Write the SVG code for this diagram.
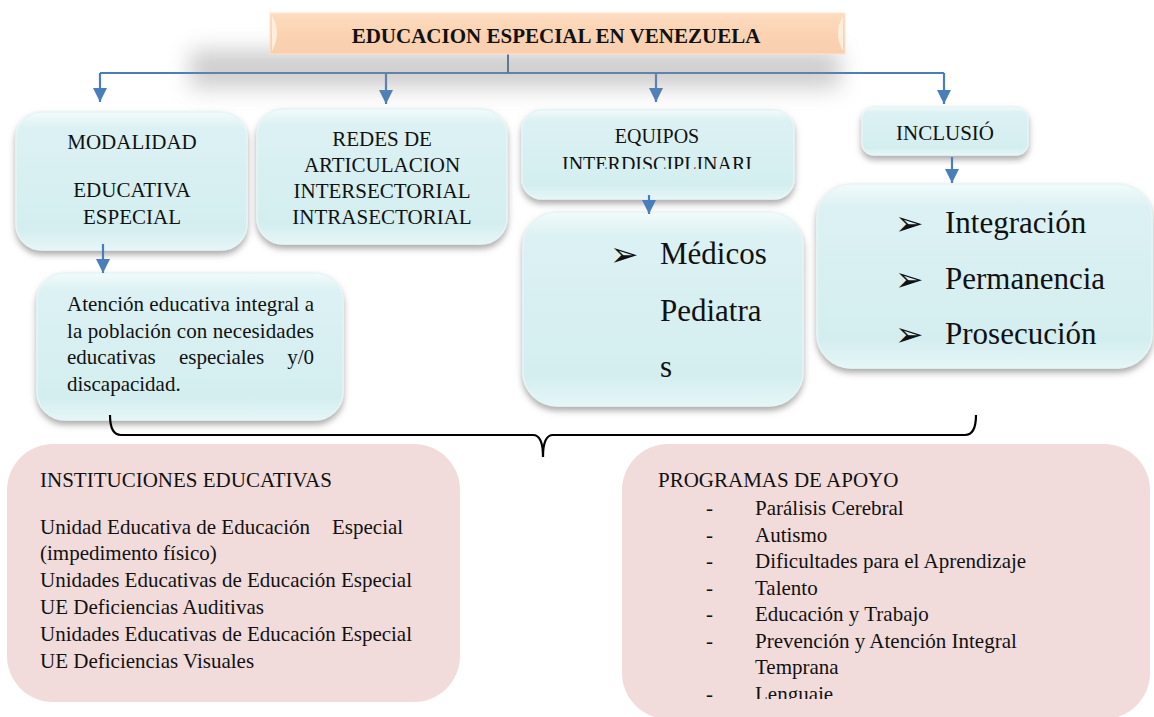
<svg xmlns="http://www.w3.org/2000/svg" width="1154" height="717" viewBox="0 0 1154 717" font-family="'Liberation Serif', 'DejaVu Serif', serif">
<defs>
<style>
.t{font-family:'Liberation Serif','DejaVu Serif',serif;fill:#111;}
.n{font-size:21px;}
.big{font-size:31px;}
.bul{font-family:'DejaVu Sans',sans-serif;font-size:34px;fill:#111;}
.cyan{fill:url(#cg);stroke:#e6f5f6;stroke-width:1.5;filter:url(#sh);}
.pink{fill:#f2dcdb;}
.conn{stroke:#4a7ebb;stroke-width:2.2;fill:none;}
</style>
<linearGradient id="cg" x1="0" y1="0" x2="0" y2="1">
<stop offset="0" stop-color="#f2fbfb"/>
<stop offset="0.12" stop-color="#dcf1f3"/>
<stop offset="0.85" stop-color="#d4eef0"/>
<stop offset="1" stop-color="#e6f6f7"/>
</linearGradient>
<linearGradient id="pg" x1="0" y1="0" x2="0" y2="1">
<stop offset="0" stop-color="#fddcc0"/>
<stop offset="0.5" stop-color="#fbd3b2"/>
<stop offset="1" stop-color="#f9cfae"/>
</linearGradient>
<filter id="sh" x="-10%" y="-10%" width="120%" height="130%">
<feDropShadow dx="0" dy="4" stdDeviation="3" flood-color="#666" flood-opacity="0.55"/>
</filter>
<filter id="blur" x="-20%" y="-60%" width="140%" height="220%">
<feGaussianBlur stdDeviation="11"/>
</filter>
<marker id="ah" viewBox="0 0 14 14" refX="14" refY="7" markerWidth="14" markerHeight="14" markerUnits="userSpaceOnUse" orient="auto">
<path d="M0,0 L14,7 L0,14 Z" fill="#4a7ebb"/>
</marker>
<clipPath id="clipEq"><rect x="522" y="110" width="272" height="59"/></clipPath>
<clipPath id="clipProg"><rect x="622" y="444" width="530" height="255"/></clipPath>
</defs>
<rect width="1154" height="717" fill="#ffffff"/>

<g id="modalidad">
<rect class="cyan" x="16" y="112" width="231" height="138" rx="26"/>
<text class="t n" x="132" y="149" text-anchor="middle">MODALIDAD</text>
<text class="t n" x="132" y="197" text-anchor="middle">EDUCATIVA</text>
<text class="t n" x="132" y="224" text-anchor="middle">ESPECIAL</text>
</g>

<g id="redes">
<rect class="cyan" x="257" y="109" width="250" height="135" rx="26"/>
<text class="t n" x="382" y="146" text-anchor="middle">REDES DE</text>
<text class="t n" x="382" y="172" text-anchor="middle">ARTICULACION</text>
<text class="t n" x="382" y="198" text-anchor="middle">INTERSECTORIAL</text>
<text class="t n" x="382" y="224" text-anchor="middle">INTRASECTORIAL</text>
</g>

<g id="equipos">
<rect class="cyan" x="522" y="110" width="272" height="89" rx="20"/>
<g clip-path="url(#clipEq)">
<text class="t" font-size="20" x="657" y="143" text-anchor="middle">EQUIPOS</text>
<text class="t" font-size="20" x="657" y="171" text-anchor="middle">INTERDISCIPLINARI</text>
</g>
</g>

<g id="inclusion">
<rect class="cyan" x="862" y="107" width="166" height="48" rx="12"/>
<text class="t n" x="945" y="140" text-anchor="middle">INCLUSIÓ</text>
</g>

<g id="atencion">
<rect class="cyan" x="37" y="273" width="306" height="147" rx="28"/>
<text class="t n" x="67" y="311" textLength="247" lengthAdjust="spacing">Atención educativa integral a</text>
<text class="t n" x="67" y="338" textLength="247" lengthAdjust="spacing">la población con necesidades</text>
<text class="t n" x="67" y="364">educativas</text>
<text class="t n" x="179" y="364">especiales</text>
<text class="t n" x="314" y="364" text-anchor="end">y/0</text>
<text class="t n" x="67" y="391">discapacidad.</text>
</g>

<g id="medicos">
<rect class="cyan" x="523" y="212" width="280" height="194" rx="34"/>
<text class="bul" x="610" y="266">➢</text>
<text class="t big" x="660" y="264">Médicos</text>
<text class="t big" x="660" y="321">Pediatra</text>
<text class="t big" x="660" y="377">s</text>
</g>

<g id="inclusion-list">
<rect class="cyan" x="817" y="184" width="335" height="184" rx="34"/>
<text class="bul" x="895" y="235">➢</text>
<text class="t big" x="945" y="233">Integración</text>
<text class="bul" x="895" y="291">➢</text>
<text class="t big" x="945" y="289">Permanencia</text>
<text class="bul" x="895" y="346">➢</text>
<text class="t big" x="945" y="344">Prosecución</text>
</g>

<g id="instituciones">
<rect class="pink" x="7" y="444" width="453" height="258" rx="46"/>
<text class="t n" x="40" y="487">INSTITUCIONES EDUCATIVAS</text>
<text class="t n" x="40" y="534">Unidad Educativa de Educación</text>
<text class="t n" x="332" y="534">Especial</text>
<text class="t n" x="40" y="560">(impedimento físico)</text>
<text class="t n" x="40" y="587">Unidades Educativas de Educación Especial</text>
<text class="t n" x="40" y="614">UE Deficiencias Auditivas</text>
<text class="t n" x="40" y="641">Unidades Educativas de Educación Especial</text>
<text class="t n" x="40" y="668">UE Deficiencias Visuales</text>
</g>

<g id="programas">
<rect class="pink" x="622" y="444" width="528" height="275" rx="46"/>
<text class="t n" x="658" y="487">PROGRAMAS DE APOYO</text>
<g clip-path="url(#clipProg)">
<text class="t n" x="706" y="515">-</text><text class="t n" x="755" y="515">Parálisis Cerebral</text>
<text class="t n" x="706" y="542">-</text><text class="t n" x="755" y="542">Autismo</text>
<text class="t n" x="706" y="568">-</text><text class="t n" x="755" y="568">Dificultades para el Aprendizaje</text>
<text class="t n" x="706" y="595">-</text><text class="t n" x="755" y="595">Talento</text>
<text class="t n" x="706" y="621">-</text><text class="t n" x="755" y="621">Educación y Trabajo</text>
<text class="t n" x="706" y="648">-</text><text class="t n" x="755" y="648">Prevención y Atención Integral</text>
<text class="t n" x="755" y="674">Temprana</text>
<text class="t n" x="706" y="701">-</text><text class="t n" x="755" y="701">Lenguaje</text>
</g>
</g>

<g id="connectors">
<path class="conn" d="M100,73 L944,73"/>
<path class="conn" d="M100,73 V102" marker-end="url(#ah)"/>
<path class="conn" d="M386,73 V104" marker-end="url(#ah)"/>
<path class="conn" d="M656,73 V102" marker-end="url(#ah)"/>
<path class="conn" d="M944,73 V104" marker-end="url(#ah)"/>
<path d="M508,54 V73" stroke="#4f6b8c" stroke-width="2" fill="none"/>
<path class="conn" d="M103,244 V273" marker-end="url(#ah)"/>
<path class="conn" d="M649,195 V214" marker-end="url(#ah)"/>
<path class="conn" d="M952,157 V183" marker-end="url(#ah)"/>
<path d="M110,415 Q110,435 121,435 L533,435 Q543,435 543,457 Q543,435 553,435 L965,435 Q976,435 976,415" stroke="#000" stroke-width="2.2" fill="none"/>
</g>

<g id="title">
<rect x="190" y="50" width="650" height="38" fill="#8a8a8a" opacity="0.42" filter="url(#blur)"/>
<rect x="270" y="13" width="575" height="41" fill="url(#pg)" stroke="#fbe3cf" stroke-width="1"/>
<path d="M272,16 Q282,33 272,51 Z" fill="#fff1e0" opacity="0.9"/>
<path d="M843,16 Q833,33 843,51 Z" fill="#fff1e0" opacity="0.9"/>
<text class="t" x="556" y="43" text-anchor="middle" font-size="21" font-weight="bold">EDUCACION ESPECIAL EN VENEZUELA</text>
</g>
</svg>
